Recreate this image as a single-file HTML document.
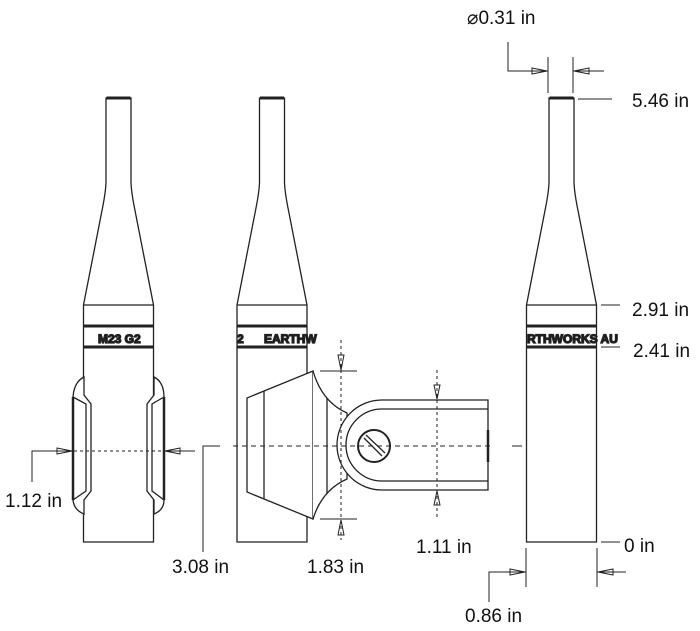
<!DOCTYPE html>
<html><head><style>body{margin:0;background:#fff}svg{display:block}text{font-family:"Liberation Sans",sans-serif;font-size:19px;fill:#111}</style></head>
<body>
<svg width="700" height="631" viewBox="0 0 700 631" xmlns="http://www.w3.org/2000/svg" fill="none" stroke="#222" stroke-width="1.3">
<defs>
<g id="mic">
<path d="M-12.5,0 V85 Q-13,95 -16,110 L-35,207 V444 H35 V207 L16,110 Q13,95 12.5,85 V0 Z" fill="#fff"/>
<line x1="-12" y1="0" x2="12" y2="0" stroke-width="3"/>
<line x1="-35" y1="207" x2="35" y2="207"/>
<line x1="-35" y1="228" x2="35" y2="228" stroke-width="3"/>
<line x1="-35" y1="249" x2="35" y2="249" stroke-width="3"/>
</g>
</defs>
<!-- mic1 -->
<use href="#mic" x="118.5" y="98"/>
<text x="98" y="343" style="font-size:12px;font-weight:bold">M23 G2</text>
<path d="M84,377 Q74,382 73,397 V500 Q74,510 84,514 L84,500 L91,491 V404 L84,395 Z" fill="#fff"/>
<path d="M73,397 L86,404 V491 L73,500" />
<line x1="73" y1="397" x2="73" y2="500" stroke-width="2.5"/>
<path d="M154,377 Q164,382 164,397 V500 Q164,510 154,514 L154,500 L147,491 V404 L154,395 Z" fill="#fff"/>
<path d="M164,397 L152,404 V491 L164,500"/>
<line x1="164" y1="397" x2="164" y2="500" stroke-width="2.5"/>
<line x1="74" y1="451" x2="164" y2="451" stroke-dasharray="3,3" stroke-width="1"/>
<!-- mic2 -->
<use href="#mic" x="272" y="98"/>
<text x="264" y="343" style="font-size:12px;font-weight:bold">EARTHW</text>
<text x="237" y="343" style="font-size:12px;font-weight:bold">2</text>
<path d="M313,371 L247,398 V492 L313,519 Z" fill="#fff"/>
<line x1="264" y1="391" x2="264" y2="499"/>
<path d="M313,371 Q322,402 347,413 L347,479 Q322,490 313,519" fill="#fff"/>
<line x1="327" y1="398" x2="327" y2="494"/>
<path d="M488,400 H382 A45,45 0 0 0 382,490 H488 Z" fill="#fff"/>
<path d="M488,409 H382 A36,36 0 0 0 382,481 H488"/>
<line x1="488" y1="430" x2="488" y2="462" stroke-width="2.5"/>
<circle cx="374" cy="446" r="16" fill="#fff" stroke-width="2"/>
<line x1="364" y1="438" x2="382" y2="456"/><line x1="366" y1="435" x2="385" y2="453"/>
<line x1="233" y1="446" x2="490" y2="446" stroke-dasharray="5,4" stroke-width="1"/>
<line x1="205" y1="446" x2="220" y2="446" stroke-width="1"/>
<line x1="512" y1="446" x2="522" y2="446" stroke-width="1"/>
<!-- 1.83 -->
<line x1="341" y1="340" x2="341" y2="540" stroke-dasharray="3,3" stroke-width="1"/>
<line x1="320" y1="371" x2="357" y2="371" stroke-width="1"/>
<line x1="320" y1="519" x2="357" y2="519" stroke-width="1"/>
<path d="M338,355 L344,355 L341,370 Z M338,535 L344,535 L341,520 Z" stroke-width="1"/>
<!-- 1.11 -->
<line x1="437" y1="370" x2="437" y2="520" stroke-dasharray="3,3" stroke-width="1"/>
<path d="M434,385 L440,385 L437,399 Z M434,505 L440,505 L437,491 Z" stroke-width="1"/>
<!-- mic3 -->
<use href="#mic" x="561.5" y="98"/>
<text x="527" y="343" style="font-size:12px;font-weight:bold">RTHWORKS AU</text>
<line x1="578" y1="99" x2="612" y2="99" stroke-width="1"/>
<line x1="601" y1="305" x2="620" y2="305" stroke-width="1"/>
<line x1="601" y1="347" x2="620" y2="347" stroke-width="1"/>
<line x1="601" y1="542" x2="620" y2="542" stroke-width="1"/>
<line x1="548" y1="57" x2="548" y2="93" stroke-width="1"/>
<line x1="573" y1="57" x2="573" y2="93" stroke-width="1"/>
<path d="M508,42 V71 H548 M573,71 H604" stroke-width="1"/>
<path d="M532,68 L532,74 L547,71 Z M589,68 L589,74 L574,71 Z" stroke-width="1"/>
<line x1="526" y1="548" x2="526" y2="587" stroke-width="1"/>
<line x1="597" y1="548" x2="597" y2="587" stroke-width="1"/>
<path d="M489,602 V572 H526 M597,572 H626" stroke-width="1"/>
<path d="M510,569 L510,575 L525,572 Z M613,569 L613,575 L598,572 Z" stroke-width="1"/>
<path d="M32,482 V451 H73 M164,451 H195" stroke-width="1"/>
<path d="M57,448 L57,454 L72,451 Z M180,448 L180,454 L165,451 Z" stroke-width="1"/>
<path d="M220,446 H203 V552" stroke-width="1"/>
<g stroke="none">
<text x="467" y="24">⌀0.31 in</text>
<text x="632" y="107">5.46 in</text>
<text x="632" y="316">2.91 in</text>
<text x="633" y="357">2.41 in</text>
<text x="624" y="552">0 in</text>
<text x="465" y="622">0.86 in</text>
<text x="416" y="553">1.11 in</text>
<text x="307" y="573">1.83 in</text>
<text x="172" y="573">3.08 in</text>
<text x="5" y="507">1.12 in</text>
</g>
</svg>
</body></html>
